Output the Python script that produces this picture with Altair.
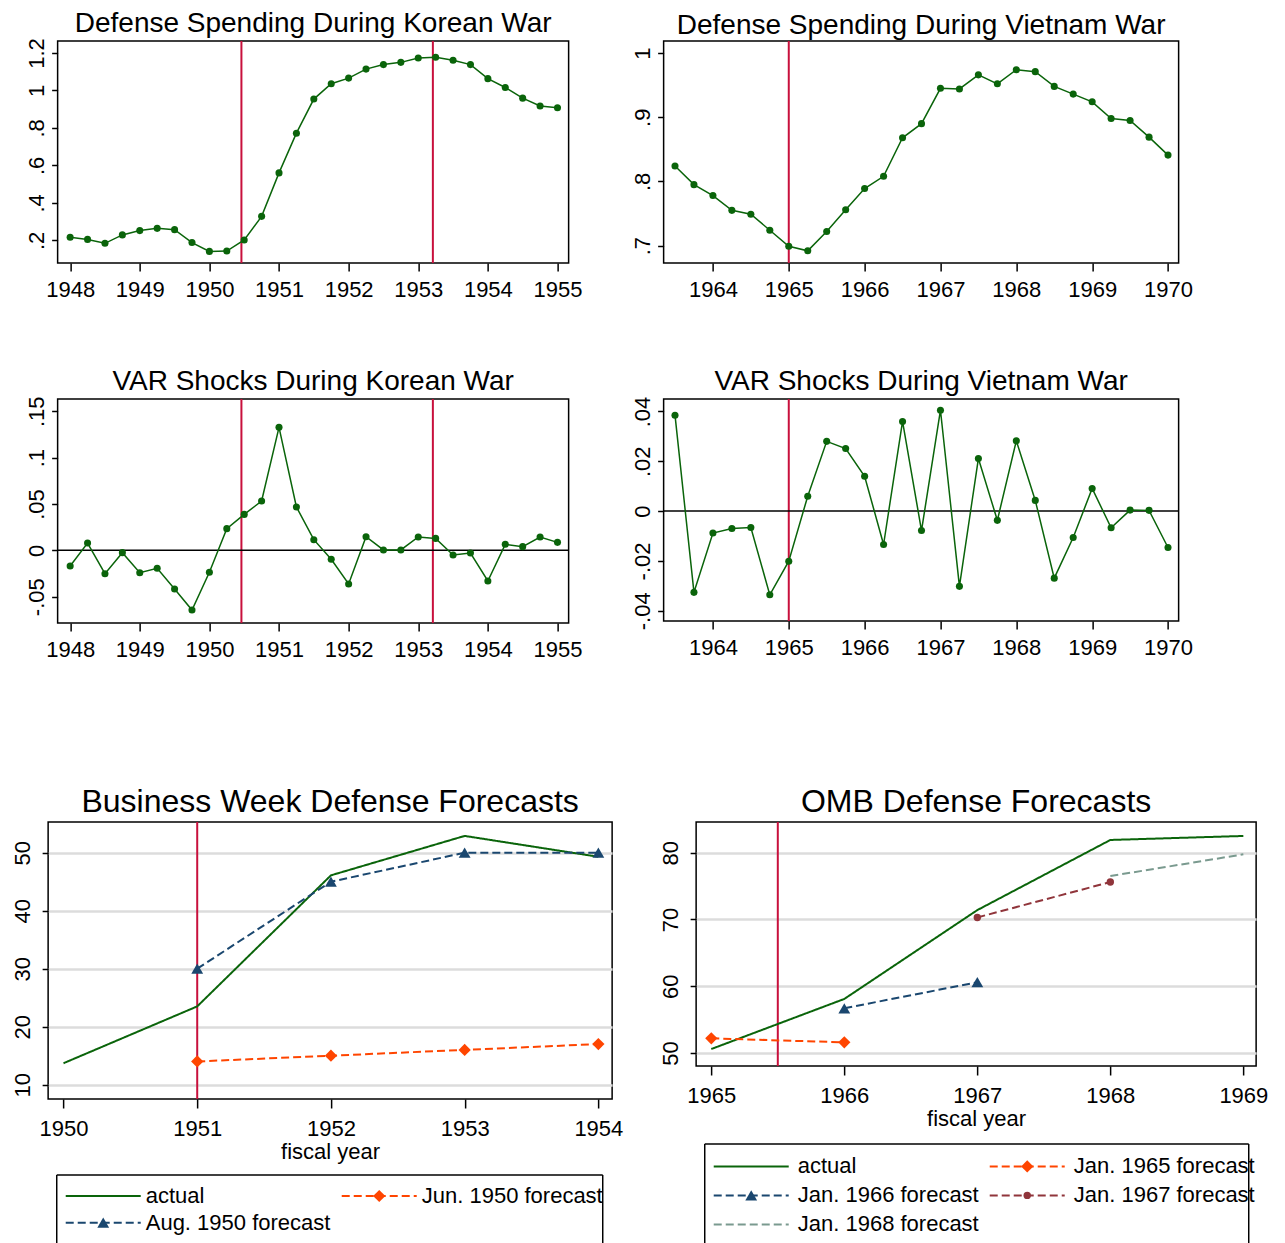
import altair as alt
import pandas as pd

# ---------------- data ----------------
korea_dates = [1948.0, 1948.25, 1948.5, 1948.75, 1949.0, 1949.25, 1949.5, 1949.75,
               1950.0, 1950.25, 1950.5, 1950.75, 1951.0, 1951.25, 1951.5, 1951.75,
               1952.0, 1952.25, 1952.5, 1952.75, 1953.0, 1953.25, 1953.5, 1953.75,
               1954.0, 1954.25, 1954.5, 1954.75, 1955.0]
korea_spending = [0.216, 0.205, 0.184, 0.229, 0.252, 0.264, 0.257, 0.188,
                  0.141, 0.143, 0.202, 0.328, 0.560, 0.772, 0.954, 1.036,
                  1.066, 1.114, 1.138, 1.150, 1.173, 1.177, 1.161, 1.138,
                  1.063, 1.016, 0.959, 0.917, 0.908]
korea_shocks = [-0.0169, 0.0079, -0.0252, -0.0025, -0.0241, -0.0194, -0.0417, -0.0644,
                -0.0237, 0.0234, 0.0388, 0.0532, 0.1327, 0.0468, 0.0115, -0.0097,
                -0.0363, 0.0147, 0.0004, 0.0004, 0.0144, 0.0129, -0.0050, -0.0029,
                -0.0331, 0.0065, 0.0040, 0.0144, 0.0086]
korea_war_lines = [1950.46, 1953.21]

vietnam_dates = [1963.5, 1963.75, 1964.0, 1964.25, 1964.5, 1964.75, 1965.0, 1965.25,
                 1965.5, 1965.75, 1966.0, 1966.25, 1966.5, 1966.75, 1967.0, 1967.25,
                 1967.5, 1967.75, 1968.0, 1968.25, 1968.5, 1968.75, 1969.0, 1969.25,
                 1969.5, 1969.75, 1970.0]
vietnam_spending = [0.824, 0.795, 0.778, 0.755, 0.749, 0.724, 0.699, 0.692,
                    0.722, 0.756, 0.789, 0.808, 0.868, 0.890, 0.945, 0.944,
                    0.966, 0.952, 0.974, 0.971, 0.948, 0.936, 0.924, 0.898,
                    0.895, 0.869, 0.841]
vietnam_shocks = [0.0385, -0.0326, -0.0088, -0.0070, -0.0066, -0.0336, -0.0201, 0.0060,
                  0.0280, 0.0251, 0.0140, -0.0134, 0.0360, -0.0078, 0.0405, -0.0302,
                  0.0211, -0.0037, 0.0282, 0.0043, -0.0269, -0.0106, 0.0091, -0.0067,
                  0.0004, 0.0003, -0.0146]
vietnam_war_lines = [1965.0]

bw_series = ["actual", "Jun. 1950 forecast", "Aug. 1950 forecast"]
bw_actual_years = [1950, 1951, 1952, 1953, 1954]
bw_actual = [13.7, 23.5, 46.1, 52.9, 49.3]
bw_forecast_years = [1951, 1952, 1953, 1954]
bw_jun1950 = [14, 15, 16, 17]
bw_aug1950 = [30, 45, 50, 50]
bw_war_line = [1951]

omb_series = ["actual", "Jan. 1965 forecast", "Jan. 1966 forecast",
              "Jan. 1967 forecast", "Jan. 1968 forecast"]
omb_actual_years = [1965, 1966, 1967, 1968, 1969]
omb_actual = [50.6, 58.1, 71.4, 81.9, 82.5]
omb_jan1965_years = [1965, 1966]
omb_jan1965 = [52.2, 51.6]
omb_jan1966_years = [1966, 1967]
omb_jan1966 = [56.7, 60.6]
omb_jan1967_years = [1967, 1968]
omb_jan1967 = [70.3, 75.6]
omb_jan1968_years = [1968, 1969]
omb_jan1968 = [76.5, 79.75]
omb_war_line = [1965.5]

# ---------------- style ----------------
FONT = "Liberation Sans"
GREEN = "#0a640a"
RED = "#c8103c"
ORANGE = "#ff4500"
NAVY = "#1a476f"
MAROON = "#90353b"
TEAL = "#7a9a8f"
DASH = [8, 4]
SOLID = [1, 0]
SHORT_LABEL = "replace(toString(datum.value), '0.', '.')"

# one colour / dash scale shared by both forecast panels
all_series = bw_series + omb_series[1:]
all_colors = [GREEN, ORANGE, NAVY, ORANGE, NAVY, MAROON, TEAL]
all_dashes = [SOLID, DASH, DASH, DASH, DASH, DASH, DASH]


def spacer(x_px):
    # invisible mark that only sets how far the panel bounds reach sideways
    return alt.Chart(pd.DataFrame({"s": [0]})).mark_rule(strokeOpacity=0).encode(
        x=alt.value(x_px), y=alt.value(0), y2=alt.value(1)
    )


def panel_title(text, size, offset):
    return alt.TitleParams(text, fontSize=size, font=FONT, fontWeight="normal",
                           color="black", anchor="middle", frame="group",
                           baseline="alphabetic", offset=offset)


def war_panel(title, dates, values, war_lines, x_dom, y_dom, y_ticks, x_ticks,
              width, height, zero=False, left=-50, right=530):
    df = pd.DataFrame({"date": dates, "value": values})
    x = alt.X("date:Q", scale=alt.Scale(domain=x_dom, nice=False, zero=False),
              axis=alt.Axis(values=x_ticks, format="d", title=None, grid=False,
                            domain=False, tickSize=8, tickWidth=1.5, tickColor="black",
                            labelFontSize=22, labelFont=FONT, labelColor="black",
                            labelPadding=8, labelFlush=False))
    y = alt.Y("value:Q", scale=alt.Scale(domain=y_dom, nice=False, zero=False),
              axis=alt.Axis(values=y_ticks, labelExpr=SHORT_LABEL, title=None,
                            grid=False, domain=False, tickSize=6, tickWidth=1.5,
                            tickColor="black", labelAngle=270, labelAlign="center",
                            labelBaseline="alphabetic", labelFontSize=22,
                            labelFont=FONT, labelColor="black", labelPadding=8))
    wars = alt.Chart(pd.DataFrame({"date": war_lines})).mark_rule(
        color=RED, strokeWidth=2).encode(x=x)
    line = alt.Chart(df).mark_line(color=GREEN, strokeWidth=1.5).encode(x=x, y=y)
    dots = alt.Chart(df).mark_circle(color=GREEN, size=50, opacity=1).encode(x=x, y=y)
    layers = [wars]
    if zero:
        layers.append(alt.Chart(pd.DataFrame({"value": [0]})).mark_rule(
            color="black", strokeWidth=1.5).encode(y=y))
    layers += [line, dots, spacer(left), spacer(right)]
    return alt.layer(*layers).properties(
        width=width, height=height, title=panel_title(title, 28, -22))


def forecast_panel(title, df, series, markers, war_line, x_dom, y_dom, y_ticks,
                   x_ticks, width, height, leg, left, right):
    color = alt.Color("series:N", scale=alt.Scale(domain=all_series, range=all_colors),
                      legend=None)
    dash = alt.StrokeDash("series:N", scale=alt.Scale(domain=all_series, range=all_dashes),
                          legend=None)
    x = alt.X("year:Q", scale=alt.Scale(domain=x_dom, nice=False, zero=False),
              axis=alt.Axis(values=x_ticks, format="d", title="fiscal year",
                            titleFontSize=22, titleFont=FONT, titleFontWeight="normal",
                            titleColor="black", titlePadding=2,
                            grid=False, domain=False, tickSize=9, tickWidth=1.5,
                            tickColor="black", labelFontSize=22, labelFont=FONT,
                            labelColor="black", labelPadding=10, labelFlush=False))
    y = alt.Y("value:Q", scale=alt.Scale(domain=y_dom, nice=False, zero=False),
              axis=alt.Axis(values=y_ticks, format="d", title=None, grid=True,
                            gridColor="#dcdcdc", gridWidth=2.5, domain=False,
                            tickSize=6, tickWidth=1.5, tickColor="black",
                            labelAngle=270, labelAlign="center",
                            labelBaseline="alphabetic", labelFontSize=22,
                            labelFont=FONT, labelColor="black", labelPadding=13))
    wars = alt.Chart(pd.DataFrame({"year": war_line})).mark_rule(
        color=RED, strokeWidth=2).encode(x=x)
    lines = alt.Chart(df).mark_line(strokeWidth=2).encode(
        x=x, y=y, color=color, strokeDash=dash)
    plot_layers = [wars, lines]
    for name, shape, size in markers:
        c = all_colors[all_series.index(name)]
        plot_layers.append(
            alt.Chart(df).transform_filter(alt.datum.series == name).mark_point(
                shape=shape, size=size, filled=True, opacity=1, color=c
            ).encode(x=x, y=y))
    plot_layers += [spacer(left), spacer(right)]

    # Stata style legend box below the plot (pixel coordinates of the panel)
    bx, bw, by, bottom, colgap, row0, rowgap, textgap = leg
    leg_df = pd.DataFrame({"series": series, "slot": list(range(len(series)))})
    lb = alt.Chart(leg_df).transform_calculate(
        col="datum.slot % 2", row="floor(datum.slot / 2)"
    ).transform_calculate(
        lx0=f"{bx + 9} + datum.col * {colgap}",
        ly=f"{by + row0} + datum.row * {rowgap}",
    ).transform_calculate(
        lx1="datum.lx0 + 75", lxm="datum.lx0 + 37.5", tx=f"datum.lx0 + {75 + textgap}"
    )
    py = alt.Y("ly:Q", scale=None, axis=None)
    leg_layers = [
        lb.mark_rule(strokeWidth=2).encode(
            x=alt.X("lx0:Q", scale=None, axis=None), x2="lx1:Q", y=py,
            color=color, strokeDash=dash),
        lb.mark_text(align="left", baseline="middle", fontSize=22, font=FONT,
                     color="black").encode(
            x=alt.X("tx:Q", scale=None, axis=None), y=py, text="series:N"),
    ]
    for name, shape, size in markers:
        c = all_colors[all_series.index(name)]
        leg_layers.append(
            lb.transform_filter(alt.datum.series == name).mark_point(
                shape=shape, size=size, filled=True, opacity=1, color=c
            ).encode(x=alt.X("lxm:Q", scale=None, axis=None), y=py))
    one = alt.Chart(pd.DataFrame({"s": [0]}))
    leg_layers += [
        one.mark_rule(color="black", strokeWidth=1.5).encode(
            x=alt.value(bx), x2=alt.value(bx + bw), y=alt.value(by)),
        one.mark_rule(color="black", strokeWidth=1.5).encode(
            x=alt.value(bx), y=alt.value(by), y2=alt.value(bottom)),
        one.mark_rule(color="black", strokeWidth=1.5).encode(
            x=alt.value(bx + bw), y=alt.value(by), y2=alt.value(bottom)),
    ]
    return alt.layer(alt.layer(*plot_layers), alt.layer(*leg_layers)).resolve_scale(
        x="independent", y="independent"
    ).properties(width=width, height=height, title=panel_title(title, 32, -23))


def long_table(parts):
    frames = [pd.DataFrame({"series": name, "year": yrs, "value": vals})
              for name, yrs, vals in parts]
    return pd.concat(frames, ignore_index=True)


bw_df = long_table([
    ("actual", bw_actual_years, bw_actual),
    ("Jun. 1950 forecast", bw_forecast_years, bw_jun1950),
    ("Aug. 1950 forecast", bw_forecast_years, bw_aug1950),
])
omb_df = long_table([
    ("actual", omb_actual_years, omb_actual),
    ("Jan. 1965 forecast", omb_jan1965_years, omb_jan1965),
    ("Jan. 1966 forecast", omb_jan1966_years, omb_jan1966),
    ("Jan. 1967 forecast", omb_jan1967_years, omb_jan1967),
    ("Jan. 1968 forecast", omb_jan1968_years, omb_jan1968),
])

korea_years = [1948, 1949, 1950, 1951, 1952, 1953, 1954, 1955]
vietnam_years = [1964, 1965, 1966, 1967, 1968, 1969, 1970]

p1 = war_panel("Defense Spending During Korean War", korea_dates, korea_spending,
               korea_war_lines, [1947.82, 1955.16], [0.079, 1.264],
               [0.2, 0.4, 0.6, 0.8, 1, 1.2], korea_years, 511, 222, left=-48)
p2 = war_panel("Defense Spending During Vietnam War", vietnam_dates, vietnam_spending,
               vietnam_war_lines, [1963.35, 1970.14], [0.673, 1.0187],
               [0.7, 0.8, 0.9, 1], vietnam_years, 515, 222, right=599)
p3 = war_panel("VAR Shocks During Korean War", korea_dates, korea_shocks,
               korea_war_lines, [1947.82, 1955.16], [-0.0784, 0.1633],
               [-0.05, 0, 0.05, 0.1, 0.15], korea_years, 511, 224, zero=True, left=-48)
p4 = war_panel("VAR Shocks During Vietnam War", vietnam_dates, vietnam_shocks,
               vietnam_war_lines, [1963.35, 1970.14], [-0.0441, 0.045],
               [-0.04, -0.02, 0, 0.02, 0.04], vietnam_years, 515, 222, zero=True,
               right=599)

p5 = forecast_panel(
    "Business Week Defense Forecasts", bw_df, bw_series,
    [("Jun. 1950 forecast", "diamond", 150), ("Aug. 1950 forecast", "triangle-up", 140)],
    bw_war_line, [1949.885, 1954.103], [7.53, 55.3], [10, 20, 30, 40, 50],
    bw_actual_years, 564, 277,
    (8.6, 546, 353, 430, 276, 21, 26.7, 5), left=-39, right=580,
)
p6 = forecast_panel(
    "OMB Defense Forecasts", omb_df, omb_series,
    [("Jan. 1965 forecast", "diamond", 150), ("Jan. 1966 forecast", "triangle-up", 140),
     ("Jan. 1967 forecast", "circle", 55)],
    omb_war_line, [1964.886, 1969.096], [48.06, 84.59], [50, 60, 70, 80],
    omb_actual_years, 560, 244,
    (8.6, 544, 322, 430, 276, 22.4, 29, 9), left=-45, right=576,
)

top = alt.vconcat(
    alt.hconcat(p1, p2, spacing=24),
    alt.hconcat(p3, p4, spacing=24),
    spacing=66,
)
chart = alt.vconcat(
    top,
    alt.hconcat(p5, p6, spacing=21),
    spacing=124,
    center=True,
).properties(
    padding={"left": 0, "top": 0, "right": 0, "bottom": 0}, background="white"
).configure_view(stroke="black", strokeWidth=1.5)

chart.save("out.html", embed_options={"renderer": "svg", "actions": False})
